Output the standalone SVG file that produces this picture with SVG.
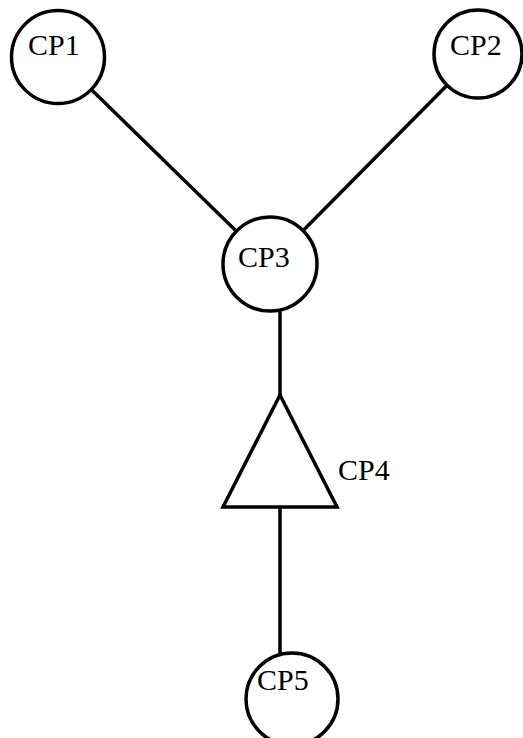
<svg xmlns="http://www.w3.org/2000/svg" width="523" height="738" viewBox="0 0 523 738">
<style>
.n{fill:#fff;stroke:#000;stroke-width:3.5}
.e{stroke:#000;stroke-width:3.5;fill:none}
text{font-family:"Liberation Serif","Times New Roman",serif;font-size:30px;fill:#000}
</style>
<rect width="523" height="738" fill="#fff"/>
<g id="connectors">
<line class="e" x1="58" y1="57" x2="270" y2="264"/>
<line class="e" x1="478" y1="54" x2="270" y2="264"/>
<line class="e" x1="280" y1="300" x2="280" y2="397"/>
<line class="e" x1="280" y1="506" x2="280" y2="670"/>
</g>
<g id="CP1"><circle class="n" cx="58" cy="57" r="46.5"/><text x="28" y="55">CP1</text></g>
<g id="CP2"><circle class="n" cx="478" cy="54" r="44"/><text x="450" y="55">CP2</text></g>
<g id="CP3"><circle class="n" cx="270" cy="264" r="47"/><text x="238" y="267">CP3</text></g>
<g id="CP4"><polygon class="n" points="280,395 223,507 337,507"/><text x="338" y="480">CP4</text></g>
<g id="CP5"><circle class="n" cx="292" cy="699" r="46"/><text x="257" y="690">CP5</text></g>
</svg>
